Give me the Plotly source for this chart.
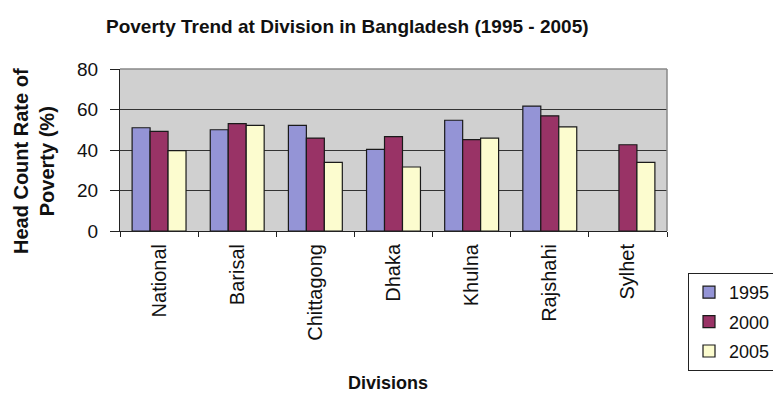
import plotly.graph_objects as go

divisions = ["National", "Barisal", "Chittagong", "Dhaka", "Khulna", "Rajshahi", "Sylhet"]
v1995 = [51, 50, 52.2, 40.3, 54.7, 61.7, None]
v2000 = [49.2, 53, 45.9, 46.6, 45.1, 56.9, 42.6]
v2005 = [39.7, 52.2, 33.9, 31.6, 45.9, 51.4, 33.9]
years = ["1995", "2000", "2005"]
colors = ["#9494D6", "#993366", "#FCFCCF"]

fig = go.Figure()
for name, vals, col in zip(years, [v1995, v2000, v2005], colors):
    fig.add_trace(go.Bar(
        x=divisions, y=vals, name=name, legendgroup=name,
        marker=dict(color=col, line=dict(color="#1a1a1a", width=1.2)),
    ))

font_family = "Liberation Sans, Arial, sans-serif"
fig.update_layout(
    width=773, height=395,
    margin=dict(l=120, r=106, t=69, b=164, autoexpand=False),
    paper_bgcolor="white",
    plot_bgcolor="#D0D0D0",
    barmode="group", bargap=0.31, bargroupgap=0,
    font=dict(family=font_family, color="#111", size=19),
    showlegend=True,
    legend=dict(
        x=(688 - 120) / 547, xanchor="left", y=(231 - 273) / 162, yanchor="top",
        bordercolor="#222", borderwidth=1, bgcolor="white",
        font=dict(size=18), tracegroupgap=3, traceorder="grouped",
    ),
    xaxis=dict(
        tickangle=-90, showline=True, linecolor="#222", linewidth=1,
        ticks="outside", tickson="boundaries", ticklen=5, tickcolor="#222",
        tickfont=dict(size=20), showgrid=False, ticklabelstandoff=4,
    ),
    yaxis=dict(
        range=[0, 80], dtick=20, showline=True, linecolor="#222", linewidth=1,
        ticks="outside", ticklen=9, tickcolor="#222", ticklabelstandoff=8,
        tickfont=dict(size=19), gridcolor="#333", gridwidth=1, zeroline=False,
    ),
    annotations=[
        dict(text="<b>Poverty Trend at Division in Bangladesh (1995 - 2005)</b>",
             xref="paper", yref="paper", x=(347 - 120) / 547, y=(231 - 27) / 162,
             xanchor="center", yanchor="middle", showarrow=False,
             font=dict(size=19)),
        dict(text="<b>Head Count Rate of<br>Poverty (%)</b>",
             xref="paper", yref="paper", x=(34 - 120) / 547, y=(231 - 161) / 162,
             xanchor="center", yanchor="middle", showarrow=False, textangle=-90,
             font=dict(size=20)),
        dict(text="<b>Divisions</b>",
             xref="paper", yref="paper", x=(388 - 120) / 547, y=(231 - 383) / 162,
             xanchor="center", yanchor="middle", showarrow=False,
             font=dict(size=18)),
    ],
    shapes=[
        dict(type="line", xref="paper", yref="paper", x0=0, x1=1, y0=1, y1=1,
             line=dict(color="#888", width=1.5)),
        dict(type="line", xref="paper", yref="paper", x0=1, x1=1, y0=0, y1=1,
             line=dict(color="#888", width=1.5)),
    ],
)

fig.write_html("out.html")
